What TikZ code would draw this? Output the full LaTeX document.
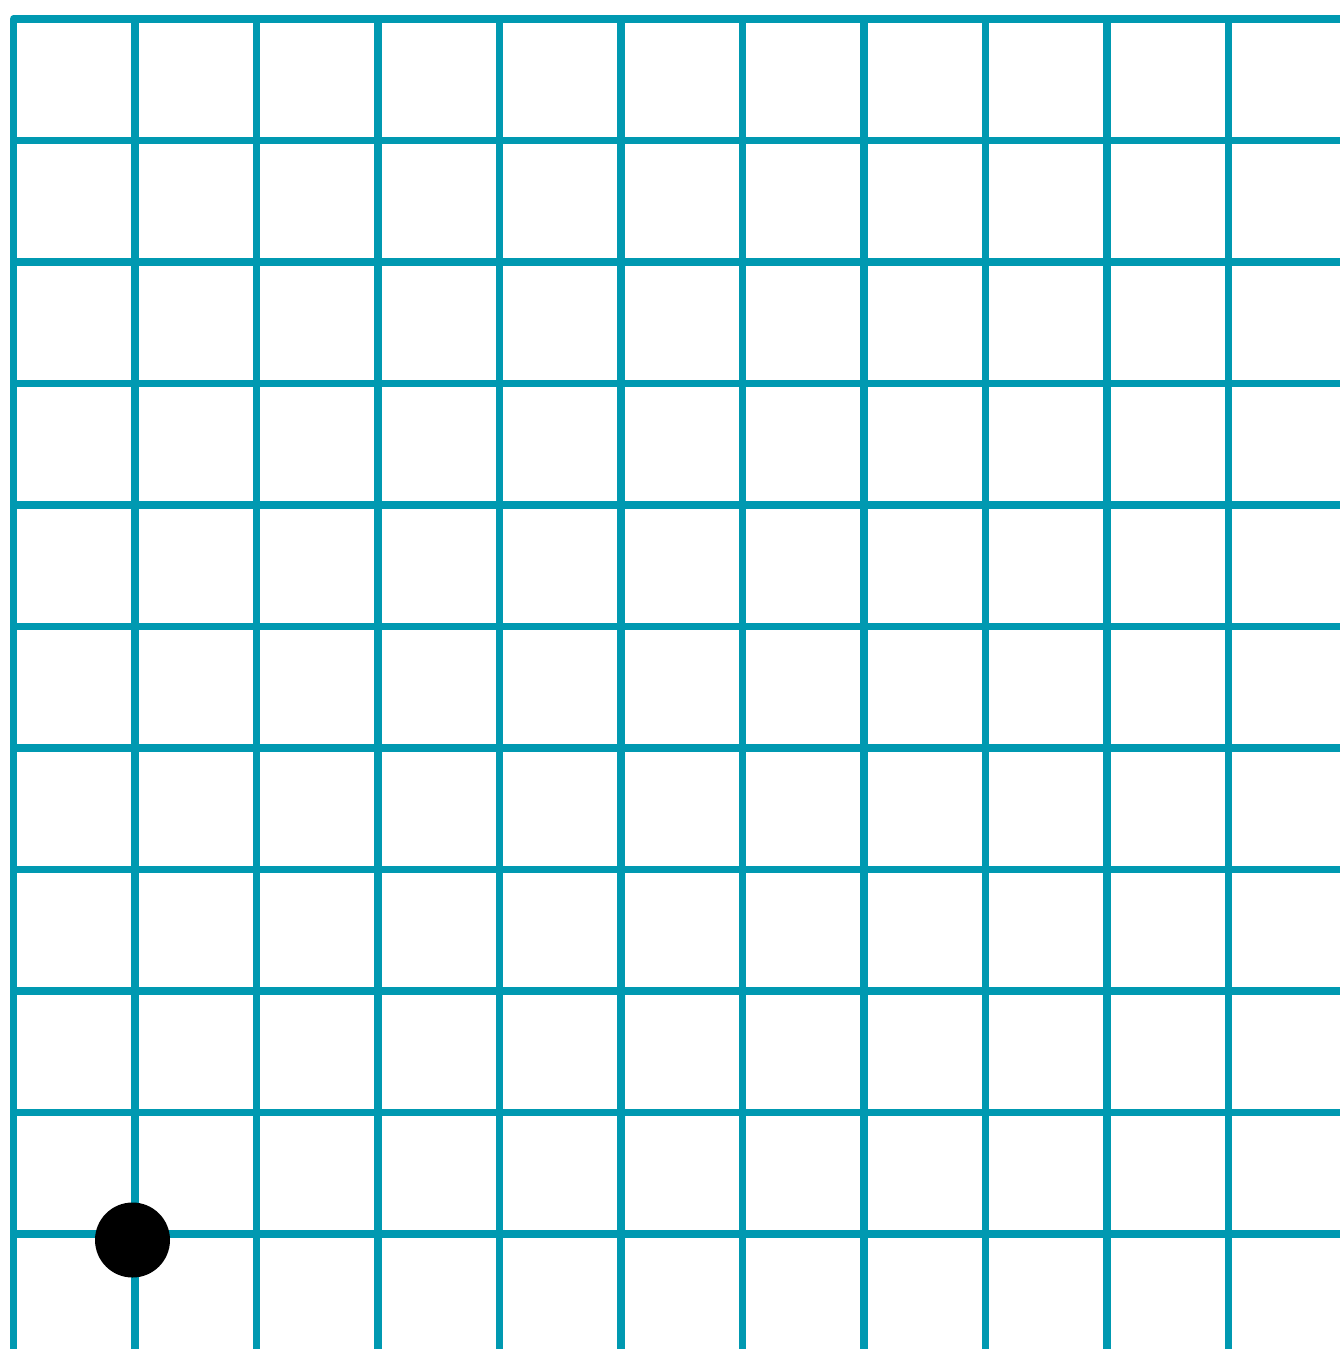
\documentclass[tikz,border=0pt]{standalone}
\definecolor{gridteal}{HTML}{0099B1}
\begin{document}
\begin{tikzpicture}[x=1pt,y=-1pt,
  gridline/.style={draw=gridteal,line width=7.5pt,line join=round},
  marker/.style={circle,fill=black,inner sep=0pt,minimum size=75pt}]
\useasboundingbox (0,0) rectangle (1340,1349);
\fill[white] (0,0) rectangle (1340,1349);
\begin{scope}
\clip (0,0) rectangle (1340,1349);
% inner verticals
\foreach \k in {1,...,10} {
  \draw[gridline] ({13.5+121.5*\k},19) -- ({13.5+121.5*\k},1360);
}
% inner horizontals
\foreach \k in {1,...,10} {
  \draw[gridline] (13.5,{19+121.5*\k}) -- (1360,{19+121.5*\k});
}
% outer left and top edges
\draw[gridline] (13.5,1360) -- (13.5,19) -- (1360,19);
\end{scope}
\node[marker] (dot) at (132.5,1240) {};
\end{tikzpicture}
\end{document}
